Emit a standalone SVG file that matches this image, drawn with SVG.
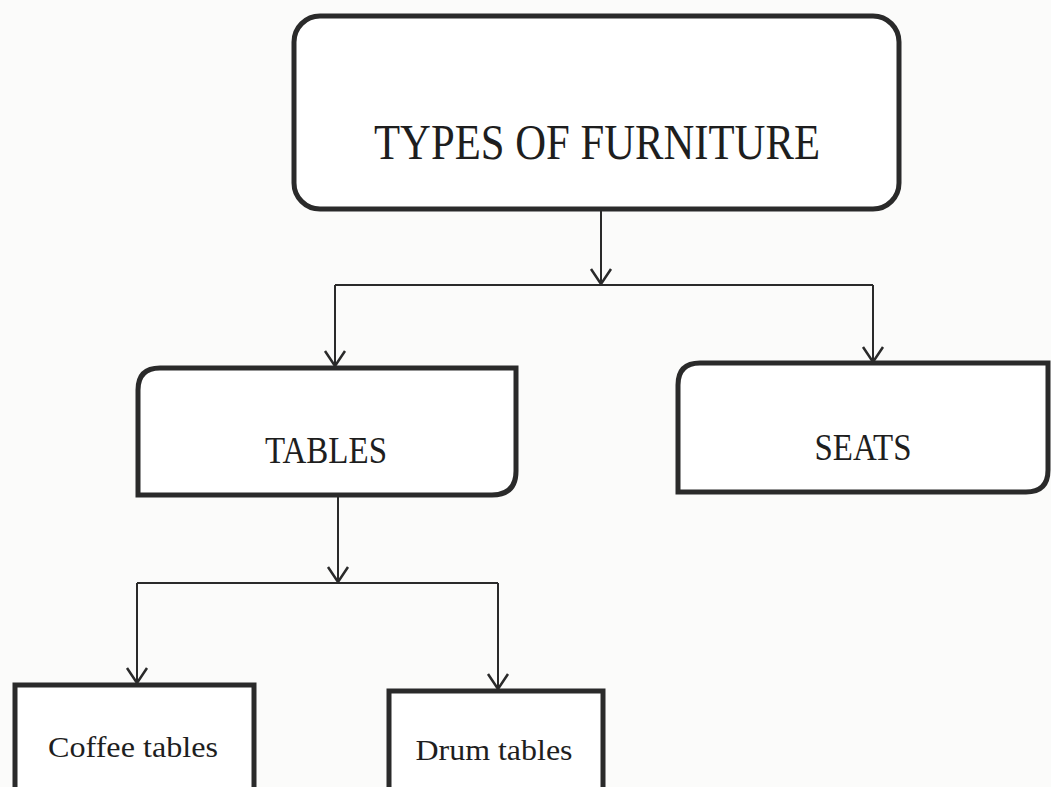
<svg xmlns="http://www.w3.org/2000/svg" width="1051" height="787" viewBox="0 0 1051 787">
<defs>
<style>
.box{fill:#fff;stroke:#2a2a2a;stroke-width:5}
.lbl{font-family:"Liberation Serif","Times New Roman",serif;fill:#1e1e1e;text-anchor:middle}
.con{fill:none;stroke:#2a2a2a;stroke-width:2}
</style>
<marker id="ah" viewBox="0 0 20 24" refX="18" refY="12" markerWidth="20" markerHeight="24" markerUnits="userSpaceOnUse" orient="auto">
<path d="M3 2 L18 12 L3 22" fill="none" stroke="#2a2a2a" stroke-width="2.5"/>
</marker>
</defs>
<rect width="1051" height="787" fill="#fbfbfa"/>
<g id="connectors">
<path class="con" d="M601 210 V284" marker-end="url(#ah)"/>
<path class="con" d="M335 285 H873"/>
<path class="con" d="M335 285 V366" marker-end="url(#ah)"/>
<path class="con" d="M873 285 V362" marker-end="url(#ah)"/>
<path class="con" d="M338 496 V582" marker-end="url(#ah)"/>
<path class="con" d="M137 583 H498"/>
<path class="con" d="M137 583 V683" marker-end="url(#ah)"/>
<path class="con" d="M498 583 V689" marker-end="url(#ah)"/>
</g>
<g id="node-furniture">
<rect class="box" x="294" y="16" width="605" height="193" rx="26"/>
<text class="lbl" x="597" y="159" font-size="50" textLength="446" lengthAdjust="spacingAndGlyphs">TYPES OF FURNITURE</text>
</g>
<g id="node-tables">
<path class="box" d="M160 368 H516 V471 Q516 495 492 495 H138 V390 Q138 368 160 368 Z"/>
<text class="lbl" x="326" y="463" font-size="37" textLength="122" lengthAdjust="spacingAndGlyphs">TABLES</text>
</g>
<g id="node-seats">
<path class="box" d="M700 363 H1048 V470 Q1048 492 1026 492 H678 V385 Q678 363 700 363 Z"/>
<text class="lbl" x="863" y="460" font-size="37" textLength="97" lengthAdjust="spacingAndGlyphs">SEATS</text>
</g>
<g id="node-coffee">
<rect class="box" x="15" y="685" width="239" height="110"/>
<text class="lbl" x="133" y="757" font-size="29" textLength="170" lengthAdjust="spacingAndGlyphs">Coffee tables</text>
</g>
<g id="node-drum">
<rect class="box" x="389" y="691" width="214" height="104"/>
<text class="lbl" x="494" y="760" font-size="30" textLength="157" lengthAdjust="spacingAndGlyphs">Drum tables</text>
</g>
</svg>
